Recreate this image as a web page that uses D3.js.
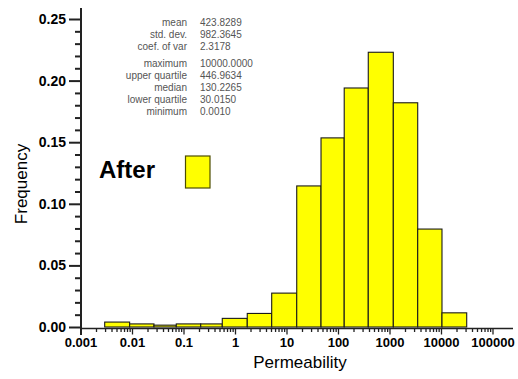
<!DOCTYPE html>
<html>
<head>
<meta charset="utf-8">
<script src="https://cdn.jsdelivr.net/npm/d3@7/dist/d3.min.js"></script>
<style>
  html, body { margin: 0; padding: 0; background: #fff; }
  svg { display: block; }
  text { font-family: Arial, "Liberation Sans", Helvetica, sans-serif; }
</style>
</head>
<body>
<svg id="chart" width="518" height="379"></svg>
<script>
// Histogram bins: lower/upper permeability bounds and frequency of each bin
const binLower = [0.00295, 0.0090, 0.0267, 0.0724, 0.216, 0.566, 1.73, 5.16, 15.8, 46.8, 132, 387, 1186, 3530, 10450];
const binUpper = [0.0090, 0.0267, 0.0724, 0.216, 0.566, 1.73, 5.16, 15.8, 46.8, 132, 387, 1186, 3530, 10450, 31560];
const frequency = [0.004, 0.0025, 0.0015, 0.0025, 0.0025, 0.007, 0.011, 0.0275, 0.1145, 0.1535, 0.194, 0.223, 0.182, 0.0795, 0.0115];

// Axis ticks
const xMajorTicks = [0.001, 0.01, 0.1, 1, 10, 100, 1000, 10000, 100000];
const xTickLabels = ["0.001", "0.01", "0.1", "1", "10", "100", "1000", "10000", "100000"];
const yMajorTicks = [0, 0.05, 0.10, 0.15, 0.20, 0.25];
const yTickLabels = ["0.00", "0.05", "0.10", "0.15", "0.20", "0.25"];

// Summary statistics
const statNames1 = ["mean", "std. dev.", "coef. of var"];
const statValues1 = ["423.8289", "982.3645", "2.3178"];
const statNames2 = ["maximum", "upper quartile", "median", "lower quartile", "minimum"];
const statValues2 = ["10000.0000", "446.9634", "130.2265", "30.0150", "0.0010"];

const svg = d3.select("#chart");

const x = d3.scaleLog().domain([0.001, 100000]).range([80.5, 492.5]);
const y = d3.scaleLinear().domain([0, 0.25]).range([327, 19]);

// Minor ticks: 2..9 within every decade
const xMinorTicks = [];
for (let d = 0; d < xMajorTicks.length - 1; d++) {
  for (let m = 2; m <= 9; m++) xMinorTicks.push(xMajorTicks[d] * m);
}
const yMinorTicks = d3.range(0, 0.2501, 0.01).filter(v => Math.abs(v * 20 - Math.round(v * 20)) > 1e-6);

// Bars
svg.append("g")
  .selectAll("rect")
  .data(frequency)
  .join("rect")
  .attr("x", (d, i) => x(binLower[i]))
  .attr("width", (d, i) => x(binUpper[i]) - x(binLower[i]))
  .attr("y", d => y(d))
  .attr("height", d => y(0) - y(d))
  .attr("fill", "#ffff00")
  .attr("stroke", "#1a1a1a")
  .attr("stroke-width", 1.1);

// Y axis
const yAxisX = 81;
const yMajor = svg.append("g").attr("transform", `translate(${yAxisX},0)`)
  .call(d3.axisLeft(y).tickValues(yMajorTicks).tickSize(12).tickFormat((d, i) => yTickLabels[i]));
const yMinor = svg.append("g").attr("transform", `translate(${yAxisX},0)`)
  .call(d3.axisLeft(y).tickValues(yMinorTicks).tickSize(6).tickFormat(""));
[yMajor, yMinor].forEach(g => {
  g.select(".domain").remove();
  g.selectAll("line").attr("stroke", "#222").attr("stroke-width", 2);
});
yMajor.selectAll("text")
  .attr("x", -15)
  .attr("font-size", 14)
  .attr("font-weight", "bold")
  .attr("fill", "#000");
svg.append("line")
  .attr("x1", yAxisX).attr("x2", yAxisX)
  .attr("y1", 8).attr("y2", 335)
  .attr("stroke", "#222").attr("stroke-width", 2);

// X axis
const xAxisY = 328.5;
const xMajor = svg.append("g").attr("transform", `translate(0,${xAxisY})`)
  .call(d3.axisBottom(x).tickValues(xMajorTicks).tickSize(6).tickFormat((d, i) => xTickLabels[i]));
const xMinor = svg.append("g").attr("transform", `translate(0,${xAxisY})`)
  .call(d3.axisBottom(x).tickValues(xMinorTicks).tickSize(3.5).tickFormat(""));
[xMajor, xMinor].forEach(g => {
  g.select(".domain").remove();
  g.selectAll("line").attr("stroke", "#222").attr("stroke-width", 1.3);
});
xMajor.selectAll("text")
  .attr("y", 9)
  .attr("font-size", 13)
  .attr("font-weight", "bold")
  .attr("fill", "#000");
svg.append("line")
  .attr("x1", 80).attr("x2", 513)
  .attr("y1", xAxisY).attr("y2", xAxisY)
  .attr("stroke", "#222").attr("stroke-width", 1.6);

// Axis titles
svg.append("text")
  .attr("x", 300).attr("y", 368)
  .attr("text-anchor", "middle")
  .attr("font-size", 17)
  .attr("fill", "#000")
  .text("Permeability");
svg.append("text")
  .attr("transform", "translate(27,184) rotate(-90)")
  .attr("text-anchor", "middle")
  .attr("font-size", 17)
  .attr("fill", "#000")
  .text("Frequency");

// Statistics block
const stats = svg.append("g").attr("font-size", 10).attr("fill", "#555");
function statLines(names, values, y0, step) {
  names.forEach((n, i) => {
    stats.append("text").attr("x", 187).attr("y", y0 + i * step).attr("text-anchor", "end").text(n);
    stats.append("text").attr("x", 200).attr("y", y0 + i * step).text(values[i]);
  });
}
statLines(statNames1, statValues1, 26, 12);
statLines(statNames2, statValues2, 67, 12);

// Legend
svg.append("text")
  .attr("x", 99).attr("y", 178)
  .attr("font-size", 24)
  .attr("font-weight", "bold")
  .attr("fill", "#000")
  .text("After");
svg.append("rect")
  .attr("x", 185.5).attr("y", 156)
  .attr("width", 24.5).attr("height", 32)
  .attr("fill", "#ffff00")
  .attr("stroke", "#4d4d00")
  .attr("stroke-width", 1.2);
</script>
</body>
</html>
